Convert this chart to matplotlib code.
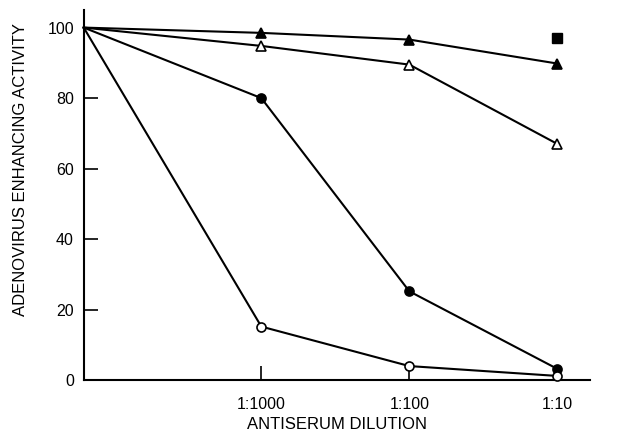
import matplotlib
matplotlib.use("Agg")
from matplotlib import pyplot as plt

plt.rcParams['font.family'] = ['Liberation Sans', 'DejaVu Sans']

# x positions: origin (undiluted reference point) then the three dilutions
dilutions = ["", "1:1000", "1:100", "1:10"]
xpos = [0, 1.2, 2.2, 3.2]

filled_tri = [100, 98.5, 96.6, 89.8]
open_tri = [100, 94.8, 89.5, 67.0]
filled_circ = [100, 80.0, 25.2, 3.2]
open_circ = [100, 15.2, 4.0, 1.2]
square_val = [97.0]

fig = plt.figure(figsize=(6.44, 4.33), dpi=100)
ax = fig.add_axes([0.130, 0.122, 0.786, 0.855])

series = [
    (filled_tri, '^', 'black'),
    (open_tri, '^', 'white'),
    (filled_circ, 'o', 'black'),
    (open_circ, 'o', 'white'),
]
for vals, mk, fc in series:
    ax.plot(xpos, vals, color='black', lw=1.5, marker=mk, markersize=6.5,
            markerfacecolor=fc, markeredgecolor='black', markeredgewidth=1.2,
            markevery=[1, 2, 3], clip_on=False, zorder=3)

ax.plot([xpos[3]], square_val, 's', color='black', markersize=7, clip_on=False)

ax.set_xlim(0, 3.42)
ax.set_ylim(0, 105)
ax.set_xticks(xpos[1:])
ax.set_xticklabels(dilutions[1:])
ax.set_yticks([0, 20, 40, 60, 80, 100])

ax.spines['top'].set_visible(False)
ax.spines['right'].set_visible(False)
ax.spines['left'].set_linewidth(1.5)
ax.spines['bottom'].set_linewidth(1.5)
ax.tick_params(direction='in', length=10, width=1.2, labelsize=11.5)
ax.tick_params(axis='x', pad=12)
ax.tick_params(axis='y', pad=7)

ax.set_xlabel("ANTISERUM DILUTION", fontsize=12, labelpad=4)
ax.set_ylabel("ADENOVIRUS ENHANCING ACTIVITY", fontsize=12)
ax.yaxis.set_label_coords(-0.110, 0.57)

fig.savefig("out.png", dpi=100)
